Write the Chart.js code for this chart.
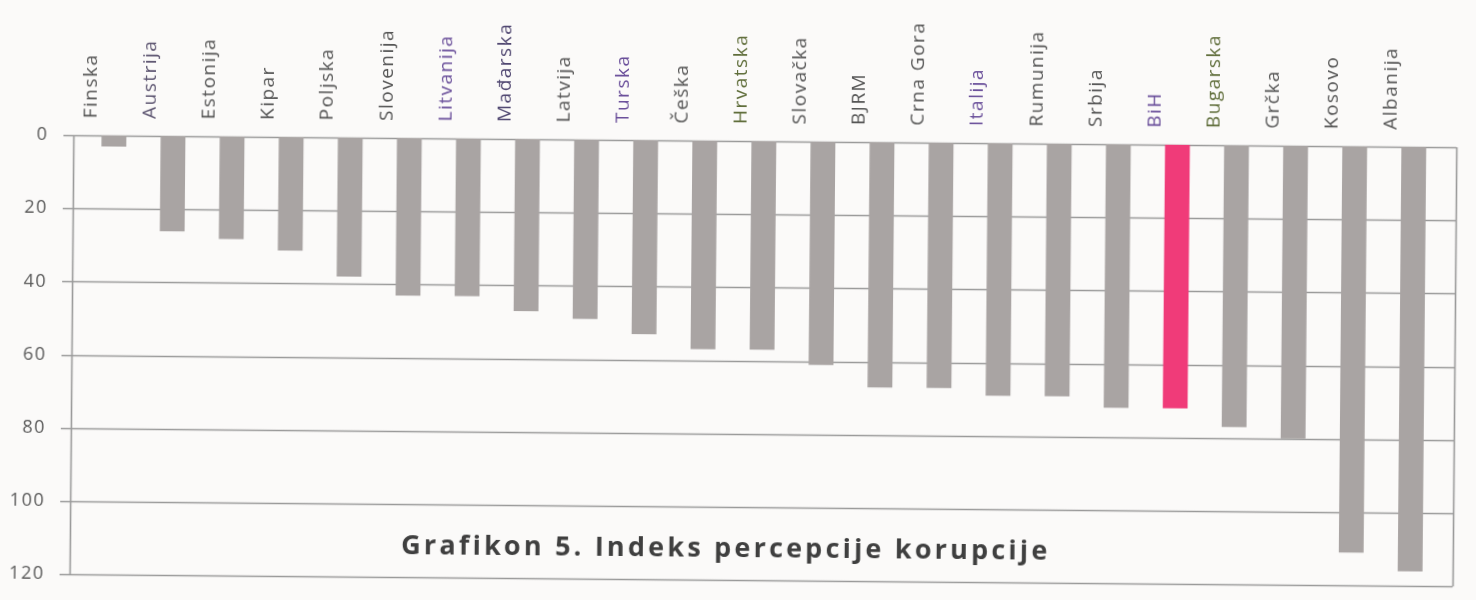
<!DOCTYPE html>
<html>
<head>
<meta charset="utf-8">
<script src="https://cdn.jsdelivr.net/npm/chart.js@4/dist/chart.umd.min.js"></script>
<style>
  html, body { margin: 0; padding: 0; background: #fbfaf9; overflow: hidden; }
  #wrap { width: 1476px; height: 600px; position: relative; overflow: hidden; }
  #cpiChart { transform: rotate(0.5deg); transform-origin: 738px 300px; }
</style>
</head>
<body>
<div id="wrap"><canvas id="cpiChart" width="1476" height="627"></canvas></div>
<script>
/* ------------------------------------------------------------
   DATA
------------------------------------------------------------ */
const countries = [
  "Finska", "Austrija", "Estonija", "Kipar", "Poljska", "Slovenija",
  "Litvanija", "Mađarska", "Latvija", "Turska", "Češka", "Hrvatska",
  "Slovačka", "BJRM", "Crna Gora", "Italija", "Rumunija", "Srbija",
  "BiH", "Bugarska", "Grčka", "Kosovo", "Albanija"
];
const rankValues = [3, 26, 28, 31, 38, 43, 43, 47, 49, 53, 57, 57, 61, 67, 67, 69, 69, 72, 72, 77, 80, 111, 116];
const yTicks = [0, 20, 40, 60, 80, 100, 120];
const highlighted = "BiH";
const chartTitle = "Grafikon 5. Indeks percepcije korupcije";

/* ------------------------------------------------------------
   STYLE
------------------------------------------------------------ */
const BAR_GREY = "#a9a4a3";
const BAR_PINK = "#f03b79";
const GRID = "#9a9a9a";
const FONT = "'Open Sans', sans-serif";

// scan tint on some labels
const labelTint = {
  "Austrija": "#5c5470", "Litvanija": "#6a4f9a", "Mađarska": "#4f4670",
  "Turska": "#6a4f9a", "Hrvatska": "#5f6d3a", "Italija": "#6a4f9a",
  "BiH": "#6a4f9a", "Bugarska": "#5f6d3a"
};

/* ------------------------------------------------------------
   FRAME + TITLE PLUGIN
------------------------------------------------------------ */
const framePlugin = {
  id: "frame",
  beforeDraw(chart) {
    chart.ctx.letterSpacing = "1.5px";
  },
  beforeDatasetsDraw(chart) {
    const { ctx, scales: { y } } = chart;
    const left = 72, right = 1455;
    ctx.save();
    ctx.strokeStyle = GRID;
    ctx.lineWidth = 1.6;
    yTicks.forEach(t => {
      const py = Math.round(y.getPixelForValue(t)) + 0.5;
      ctx.beginPath();
      ctx.moveTo(left - 10, py);
      ctx.lineTo(right, py);
      ctx.stroke();
    });
    const top = y.getPixelForValue(0), bottom = y.getPixelForValue(120);
    [left, right].forEach(px => {
      ctx.beginPath();
      ctx.moveTo(px + 0.5, top);
      ctx.lineTo(px + 0.5, bottom);
      ctx.stroke();
    });
    ctx.restore();
  },
  afterDatasetsDraw(chart) {
    const { ctx } = chart;
    ctx.save();
    ctx.letterSpacing = "3.2px";
    ctx.fillStyle = "#3f3f3f";
    ctx.font = "bold 27px " + FONT;
    ctx.textAlign = "center";
    ctx.textBaseline = "middle";
    ctx.fillText(chartTitle, 728, 549);
    ctx.restore();
  }
};

/* ------------------------------------------------------------
   CHART
------------------------------------------------------------ */
const ctx = document.getElementById("cpiChart").getContext("2d");

new Chart(ctx, {
  type: "bar",
  data: {
    labels: countries,
    datasets: [
      {
        data: rankValues,
        backgroundColor: countries.map(c => (c === highlighted ? BAR_PINK : BAR_GREY)),
        borderWidth: 0,
        barPercentage: 0.42,
        categoryPercentage: 1
      }
    ]
  },
  options: {
    responsive: false,
    animation: false,
    layout: { padding: { top: 0, right: 34, bottom: 0, left: 0 } },
    plugins: {
      legend: { display: false },
      tooltip: { enabled: false }
    },
    scales: {
      x: {
        position: "top",
        grid: { display: false, drawTicks: false },
        border: { display: false },
        afterFit: scale => { scale.height = 141; },
        ticks: {
          minRotation: 90,
          maxRotation: 90,
          padding: 17,
          font: { family: FONT, size: 19 },
          color: c => labelTint[countries[c.index]] || "#555"
        }
      },
      y: {
        reverse: true,
        min: 0,
        max: 120,
        afterFit: scale => { scale.width = 83; },
        afterBuildTicks: scale => { scale.ticks = yTicks.map(v => ({ value: v })); },
        grid: { display: false, drawTicks: false },
        border: { display: false },
        ticks: {
          padding: 36,
          font: { family: FONT, size: 18 },
          color: "#5a5a5a"
        }
      }
    }
  },
  plugins: [framePlugin]
});
</script>
</body>
</html>
